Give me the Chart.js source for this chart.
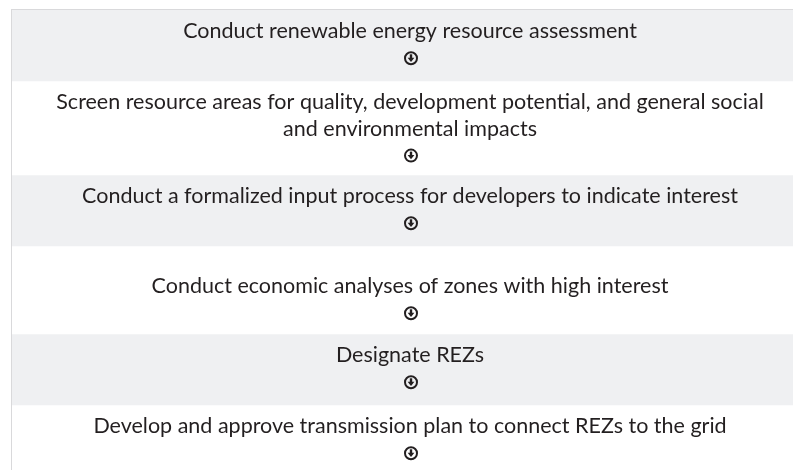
<!DOCTYPE html>
<html>
<head>
<meta charset="utf-8">
<script src="https://cdn.jsdelivr.net/npm/chart.js@4"></script>
<style>
  html, body { margin: 0; padding: 0; background: #fff; overflow: hidden; }
  #wrap { width: 808px; height: 470px; }
</style>
</head>
<body>
<div id="wrap"><canvas id="flow"></canvas></div>
<script>
// Process steps, top to bottom (each entry = lines of one step)
const steps = [
    ["Conduct renewable energy resource assessment"],
    ["Screen resource areas for quality, development potential, and general social", "and environmental impacts"],
    ["Conduct a formalized input process for developers to indicate interest"],
    ["Conduct economic analyses of zones with high interest"],
    ["Designate REZs"],
    ["Develop and approve transmission plan to connect REZs to the grid"]
];
// which steps get the grey band
const shaded = [true, false, true, false, true, false];

// layout of the rows (units of the hidden y scale)
const rowHeight = [71, 94, 71, 88, 71, 65];
const rowPadTop = [0, 0, 0, 19, 0, 0];

const rowTop = rowHeight.map((h, i) => rowHeight.slice(0, i).reduce((a, b) => a + b, 0));
const totalHeight = rowHeight.reduce((a, b) => a + b, 0);

// one floating bar per row, all stacked in the same slot
const bandSets = steps.map((s, i) => ({
    data: [[rowTop[i], rowTop[i] + rowHeight[i]]],
    backgroundColor: shaded[i] ? '#eff0f2' : '#ffffff',
    borderWidth: 0,
    grouped: false,
    categoryPercentage: 1,
    barPercentage: 1
}));

// circled down arrow
function drawArrow(ctx, cx, cy) {
    ctx.save();
    ctx.strokeStyle = '#231f20';
    ctx.fillStyle = '#231f20';
    ctx.lineWidth = 2;
    ctx.beginPath();
    ctx.arc(cx, cy, 6, 0, Math.PI * 2);
    ctx.stroke();
    ctx.fillRect(cx - 1.2, cy - 4, 2.4, 3.8);
    ctx.beginPath();
    ctx.moveTo(cx - 3.4, cy - 0.5);
    ctx.lineTo(cx + 3.4, cy - 0.5);
    ctx.lineTo(cx, cy + 3.6);
    ctx.closePath();
    ctx.fill();
    ctx.restore();
}

const flowText = {
    id: 'flowText',
    afterDatasetsDraw(chart) {
        const ctx = chart.ctx;
        const area = chart.chartArea;
        const y = chart.scales.y;
        const cx = (area.left + area.right) / 2;

        // thin frame on top and left
        ctx.save();
        ctx.fillStyle = '#d9d9db';
        ctx.fillRect(area.left - 1, area.top - 1, area.right - area.left + 1, 1);
        ctx.fillRect(area.left - 1, area.top - 1, 1, area.bottom - area.top + 1);

        ctx.fillStyle = '#231f20';
        ctx.font = '21.5px "Lato"';
        ctx.textAlign = 'center';
        ctx.textBaseline = 'middle';
        steps.forEach((lines, i) => {
            let v = rowTop[i] + rowPadTop[i] + 21.5;
            lines.forEach(line => {
                ctx.fillText(line, cx, y.getPixelForValue(v));
                v += 26.3;
            });
            drawArrow(ctx, cx + 1, y.getPixelForValue(v + 0.5));
        });
        ctx.restore();
    }
};

new Chart(document.getElementById('flow'), {
    type: 'bar',
    data: {
        labels: ['steps'],
        datasets: bandSets
    },
    options: {
        responsive: true,
        maintainAspectRatio: false,
        animation: false,
        layout: { padding: { top: 10, left: 12, right: 0, bottom: 0 } },
        plugins: {
            legend: { display: false },
            tooltip: { enabled: false }
        },
        scales: {
            x: { display: false },
            y: { display: false, reverse: true, min: 0, max: totalHeight }
        }
    },
    plugins: [flowText]
});
</script>
</body>
</html>
